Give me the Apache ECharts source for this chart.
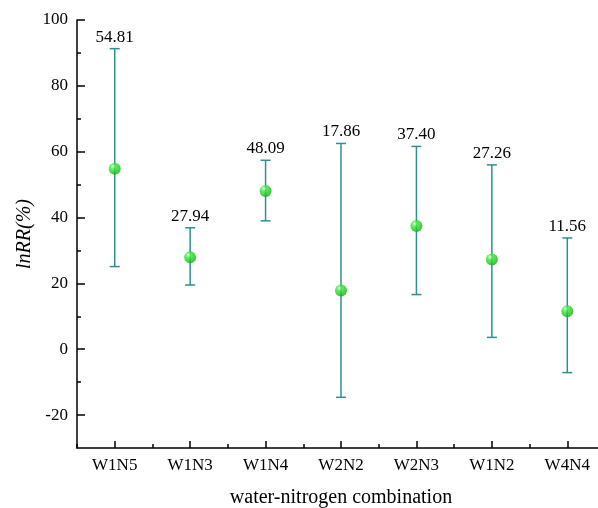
<!DOCTYPE html>
<html>
<head>
<meta charset="utf-8">
<script src="https://cdn.jsdelivr.net/npm/echarts@6/dist/echarts.min.js"></script>
<style>
  html, body { margin: 0; padding: 0; background: #fff; }
  #main { width: 598px; height: 508px; }
</style>
</head>
<body>
<div id="main"></div>
<script>
// 水氮组合 lnRR 均值及误差范围
let categories = ['W1N5', 'W1N3', 'W1N4', 'W2N2', 'W2N3', 'W1N2', 'W4N4'];
let means = [54.81, 27.94, 48.09, 17.86, 37.40, 27.26, 11.56];
let upper = [91.3, 36.9, 57.4, 62.5, 61.6, 56.0, 33.8];
let lower = [25.1, 19.5, 39.0, -14.6, 16.6, 3.6, -7.1];
let majorY = [-20, 0, 20, 40, 60, 80, 100];
let minorY = [-10, 10, 30, 50, 70, 90];

let chartDom = document.getElementById('main');
let myChart = echarts.init(chartDom);
let option;

let font = '"Liberation Serif", "Times New Roman", serif';
let barColor = '#2b9190';

let barData = categories.map(function (c, i) {
  return [i, lower[i], upper[i], means[i]];
});

option = {
  backgroundColor: '#fff',
  animation: false,
  grid: {
    left: 77,
    top: 20,
    right: -7,
    bottom: 60,
    outerBoundsMode: 'none'
  },
  xAxis: [
    {
      type: 'category',
      data: categories,
      name: 'water-nitrogen combination',
      nameLocation: 'middle',
      nameGap: 40,
      nameMoveOverlap: false,
      nameTextStyle: { fontFamily: font, fontSize: 20, color: '#000' },
      axisLine: { show: true, onZero: false, lineStyle: { color: '#000', width: 1.5 } },
      // 刻度朝内
      axisTick: { show: true, alignWithLabel: true, inside: true, length: 7, lineStyle: { color: '#000', width: 1.5 } },
      axisLabel: { fontFamily: font, fontSize: 17, color: '#000', margin: 9 },
      splitLine: { show: false }
    },
    {
      // 类别之间的小刻度
      type: 'category',
      data: categories,
      position: 'bottom',
      axisLine: { show: false, onZero: false },
      axisTick: { show: true, inside: true, length: 4, lineStyle: { color: '#000', width: 1.5 } },
      axisLabel: { show: false },
      splitLine: { show: false }
    }
  ],
  yAxis: [
    {
      type: 'value',
      min: -30,
      max: 100,
      interval: 10,
      name: 'lnRR(%)',
      nameLocation: 'middle',
      nameGap: 42,
      nameMoveOverlap: false,
      nameTextStyle: { fontFamily: font, fontSize: 20, fontStyle: 'italic', color: '#000' },
      axisLine: { show: true, onZero: false, lineStyle: { color: '#000', width: 1.5 } },
      axisTick: { show: true, inside: true, length: 8, customValues: majorY, lineStyle: { color: '#000', width: 1.5 } },
      axisLabel: { fontFamily: font, fontSize: 17, color: '#000', margin: 9, customValues: majorY },
      splitLine: { show: false }
    },
    {
      type: 'value',
      min: -30,
      max: 100,
      interval: 10,
      position: 'left',
      axisLine: { show: false, onZero: false },
      axisTick: { show: true, inside: true, length: 4, customValues: minorY, lineStyle: { color: '#000', width: 1.5 } },
      axisLabel: { show: false },
      splitLine: { show: false }
    }
  ],
  series: [
    {
      type: 'custom',
      data: barData,
      z: 2,
      renderItem: function (params, api) {
        let x = api.value(0);
        let lo = api.coord([x, api.value(1)]);
        let hi = api.coord([x, api.value(2)]);
        let cap = 5;
        let style = { stroke: barColor, lineWidth: 1.5 };
        return {
          type: 'group',
          children: [
            { type: 'line', shape: { x1: hi[0], y1: hi[1], x2: lo[0], y2: lo[1] }, style: style },
            { type: 'line', shape: { x1: hi[0] - cap, y1: hi[1], x2: hi[0] + cap, y2: hi[1] }, style: style },
            { type: 'line', shape: { x1: lo[0] - cap, y1: lo[1], x2: lo[0] + cap, y2: lo[1] }, style: style },
            {
              type: 'text',
              x: hi[0],
              y: hi[1] - 3,
              style: {
                text: api.value(3).toFixed(2),
                textAlign: 'center',
                textVerticalAlign: 'bottom',
                fontFamily: font,
                fontSize: 17,
                fill: '#000'
              }
            }
          ]
        };
      }
    },
    {
      type: 'scatter',
      data: means,
      z: 3,
      symbol: 'circle',
      symbolSize: 12,
      itemStyle: {
        color: new echarts.graphic.RadialGradient(0.35, 0.3, 0.75, [
          { offset: 0, color: '#e8ffe8' },
          { offset: 0.3, color: '#33ee33' },
          { offset: 1, color: '#12a812' }
        ])
      }
    }
  ]
};

myChart.setOption(option);
window.addEventListener('resize', () => {
  myChart.resize();
});
</script>
</body>
</html>
